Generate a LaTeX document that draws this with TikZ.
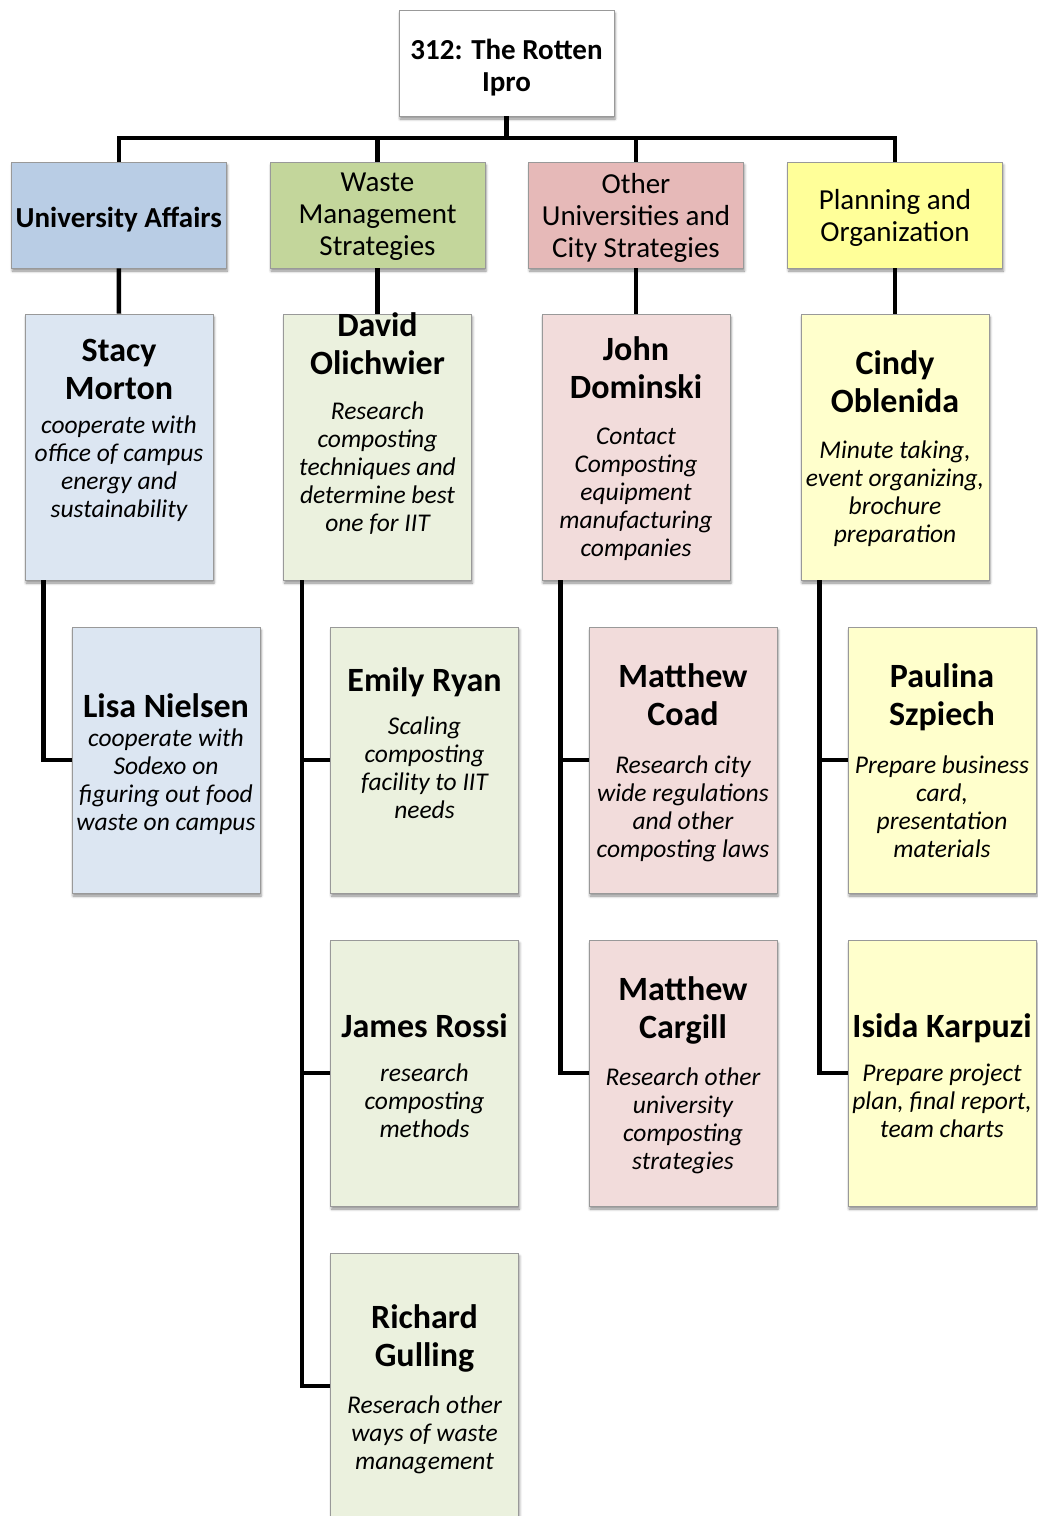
\documentclass[tikz,border=0pt]{standalone}
\usepackage{fontspec}
\setmainfont{Carlito}
\usetikzlibrary{shadows.blur}

\definecolor{uaGroup}{HTML}{B9CDE5}
\definecolor{uaMember}{HTML}{DCE6F2}
\definecolor{wmGroup}{HTML}{C3D69B}
\definecolor{wmMember}{HTML}{EBF1DE}
\definecolor{ouGroup}{HTML}{E6B9B8}
\definecolor{ouMember}{HTML}{F2DCDB}
\definecolor{poGroup}{HTML}{FFFF99}
\definecolor{poMember}{HTML}{FFFFCC}

\begin{document}
\begin{tikzpicture}[
		x=1pt, y=-1pt,
		box/.style={rectangle, draw=black!40, line width=0.8pt, blur shadow={shadow xshift=1pt, shadow yshift=-3pt, shadow blur radius=2.5pt, shadow opacity=45}},
		head/.style={box, fill=white, minimum width=215pt, minimum height=106pt},
		group/.style={box, minimum width=215pt, minimum height=106pt},
		member/.style={box, minimum width=188pt, minimum height=266pt},
		link/.style={line width=4.5pt, black},
		headtxt/.style={font=\bfseries\fontsize{29}{32}\selectfont, align=center, anchor=north, inner sep=0pt, yshift=-4pt, execute at begin node=\rule{0pt}{22pt}},
		grouptxt/.style={font=\fontsize{29}{32}\selectfont, align=center, anchor=north, inner sep=0pt, yshift=-4pt, execute at begin node=\rule{0pt}{22pt}},
		nametxt/.style={font=\bfseries\fontsize{34}{38}\selectfont, align=center, anchor=north, inner sep=0pt, yshift=-1pt, execute at begin node=\rule{0pt}{28pt}},
		jobtxt/.style={font=\itshape\fontsize{25.5}{28}\selectfont, align=center, anchor=north, inner sep=0pt, yshift=-4pt, execute at begin node=\rule{0pt}{20pt}}
		]
		
		\useasboundingbox (0,0) rectangle (1037,1516);
		
		% Project box
		\node[head] (root) at (506.5,63) {};
		\node[headtxt] (root-t) at (506.5,35) {312: The Rotten\\Ipro};
		
		% Group boxes
		\node[group, fill=uaGroup] (ua) at (118.8,215) {};
		\node[group, fill=wmGroup] (wm) at (377.5,215) {};
		\node[group, fill=ouGroup] (ou) at (636,215) {};
		\node[group, fill=poGroup] (po) at (895,215) {};
		\node[grouptxt, font=\bfseries\fontsize{29}{32}\selectfont] (ua-t) at (118.8,201) {University Affairs};
		\node[grouptxt] (wm-t) at (377.5,169) {Waste\\Management\\Strategies};
		\node[grouptxt] (ou-t) at (636,169) {Other\\Universities and\\City Strategies};
		\node[grouptxt] (po-t) at (895,185) {Planning and\\Organization};
		
		% Group leaders
		\node[member, fill=uaMember] (stacy) at (119,447) {};
		\node[member, fill=wmMember] (david) at (377.5,447) {};
		\node[member, fill=ouMember] (john) at (636,447) {};
		\node[member, fill=poMember] (cindy) at (895,447) {};
		
		% Members
		\node[member, fill=uaMember] (lisa) at (166,760) {};
		\node[member, fill=wmMember] (emily) at (424.5,760) {};
		\node[member, fill=wmMember] (james) at (424.5,1073) {};
		\node[member, fill=wmMember] (richard) at (424.5,1386) {};
		\node[member, fill=ouMember] (coad) at (683,760) {};
		\node[member, fill=ouMember] (cargill) at (683,1073) {};
		\node[member, fill=poMember] (paulina) at (942,760) {};
		\node[member, fill=poMember] (isida) at (942,1073) {};
		
		% Names
		\node[nametxt] (stacy-n) at (119,338) {Stacy\\Morton};
		\node[nametxt] (david-n) at (377.5,311) {David\\Olichwier};
		\node[nametxt] (john-n) at (636,335) {John\\Dominski};
		\node[nametxt] (cindy-n) at (895,349) {Cindy\\Oblenida};
		\node[nametxt] (lisa-n) at (166,688) {Lisa Nielsen};
		\node[nametxt] (emily-n) at (424.5,662) {Emily Ryan};
		\node[nametxt] (james-n) at (424.5,1008) {James Rossi};
		\node[nametxt] (richard-n) at (424.5,1303) {Richard\\Gulling};
		\node[nametxt] (coad-n) at (683,662) {Matthew\\Coad};
		\node[nametxt] (cargill-n) at (683,975) {Matthew\\Cargill};
		\node[nametxt] (paulina-n) at (942,662) {Paulina\\Szpiech};
		\node[nametxt] (isida-n) at (942,1008) {Isida Karpuzi};
		
		% Tasks
		\node[jobtxt] (stacy-d) at (119,412) {cooperate with\\office of campus\\energy and\\sustainability};
		\node[jobtxt] (david-d) at (377.5,398) {Research\\composting\\techniques and\\determine best\\one for IIT};
		\node[jobtxt] (john-d) at (636,424) {Contact\\Composting\\equipment\\manufacturing\\companies};
		\node[jobtxt] (cindy-d) at (895,437) {Minute taking,\\event organizing,\\brochure\\preparation};
		\node[jobtxt] (lisa-d) at (166,725) {cooperate with\\Sodexo on\\figuring out food\\waste on campus};
		\node[jobtxt] (emily-d) at (424.5,713) {Scaling\\composting\\facility to IIT\\needs};
		\node[jobtxt] (james-d) at (424.5,1060) {research\\composting\\methods};
		\node[jobtxt] (richard-d) at (424.5,1392) {Reserach other\\ways of waste\\management};
		\node[jobtxt] (coad-d) at (683,752) {Research city\\wide regulations\\and other\\composting laws};
		\node[jobtxt] (cargill-d) at (683,1064) {Research other\\university\\composting\\strategies};
		\node[jobtxt] (paulina-d) at (942,752) {Prepare business\\card,\\presentation\\materials};
		\node[jobtxt] (isida-d) at (942,1060) {Prepare project\\plan, final report,\\team charts};
		
		% Connectors
		\coordinate (bar) at (506.5,138);
		\draw[link] (root.south) -- (bar);
		\foreach \g in {ua, wm, ou, po}
		\draw[link] (bar) -| (\g.north);
		
		\foreach \g/\p in {ua/stacy, wm/david, ou/john, po/cindy}
		\draw[link] (\g.south) -- (\p.north);
		
		\foreach \p/\m in {stacy/lisa, david/emily, david/james, david/richard, john/coad, john/cargill, cindy/paulina, cindy/isida}
		\draw[link] ([xshift=19pt]\p.south west) |- (\m.west);
		
	\end{tikzpicture}
\end{document}
